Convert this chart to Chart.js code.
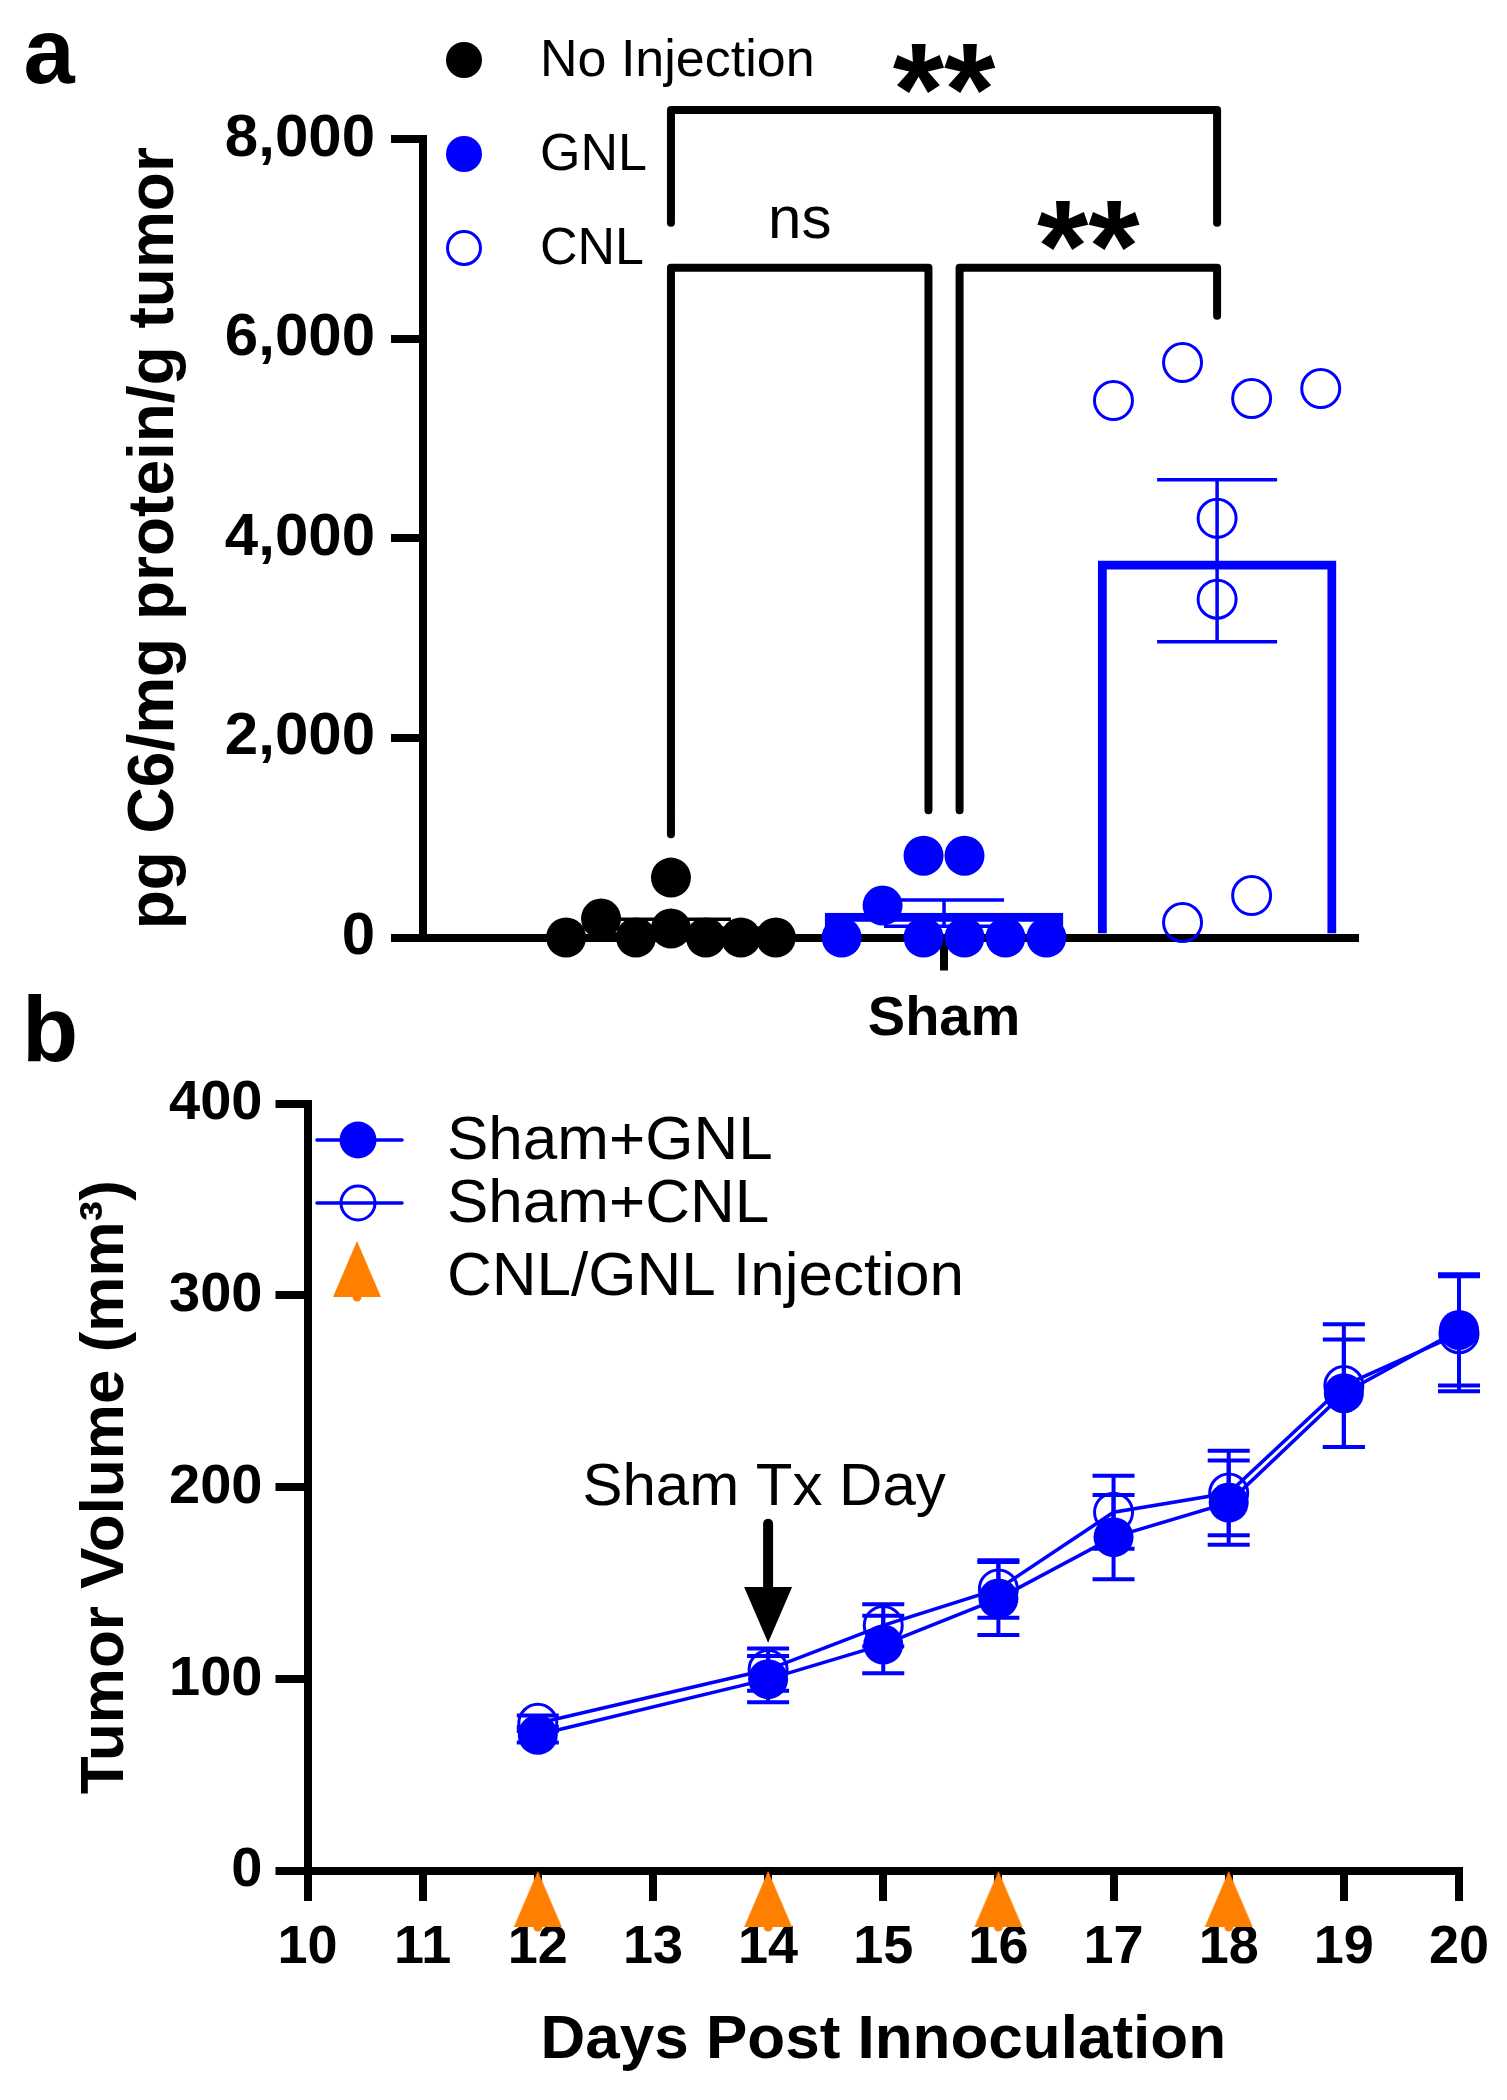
<!DOCTYPE html>
<html>
<head>
<meta charset="utf-8">
<script src="https://cdn.jsdelivr.net/npm/chart.js@4.4.0/dist/chart.umd.min.js"></script>
<style>
  body { margin: 0; background: #fff; }
  #wrap { position: relative; width: 1507px; height: 2100px; background: #fff; }
  canvas { position: absolute; left: 0; }
  #chartA { top: 0; }
  #chartB { top: 970px; }
</style>
</head>
<body>
<div id="wrap">
  <canvas id="chartA" width="1507" height="1050"></canvas>
  <canvas id="chartB" width="1507" height="1130"></canvas>
</div>
<script>
const FONT = "'Liberation Sans', Arial, Helvetica, sans-serif";
const BLUE = "#0000ff";
const BLACK = "#000000";
const ORANGE = "#ff8000";

// ---- panel a data ----
const groupNames = ["No Injection", "GNL", "CNL"];
const groupLabel = "Sham";
const noInjection = [0, 190, 0, 600, 90, 0, 0, 0];
const gnl = [0, 320, 0, 820, 0, 820, 0, 0];
const cnl = [5380, 5760, 5400, 5500, 4200, 3390, 150, 420];
// jitter column of each dot inside its group
const noInjectionCol = [-3, -2, -1, 0, 0, 1, 2, 3];
const gnlCol = [-2.5, -1.5, -0.5, -0.5, 0.5, 0.5, 1.5, 2.5];
const cnlCol = [-1.5, -0.5, 0.5, 1.5, 0, 0, -0.5, 0.5];
const yTicksA = [0, 2000, 4000, 6000, 8000];

// ---- panel b data ----
const days = [12, 14, 15, 16, 17, 18, 19, 20];
const shamGnl = [71, 100, 118, 142, 174, 192, 249, 282];
const shamGnlSem = [4, 12, 15, 19, 22, 22, 28, 29];
const shamCnl = [77, 105, 128, 147, 187, 197, 253, 280];
const shamCnlSem = [4, 11, 11, 15, 19, 22, 32, 30];
const injectionDays = [12, 14, 16, 18];
const xTicksB = [10, 11, 12, 13, 14, 15, 16, 17, 18, 19, 20];
const yTicksB = [0, 100, 200, 300, 400];

function mean(a) {
  return a.reduce(function (s, v) { return s + v; }, 0) / a.length;
}
function sem(a) {
  var m = mean(a);
  var ss = a.reduce(function (s, v) { return s + (v - m) * (v - m); }, 0);
  return Math.sqrt(ss / (a.length - 1)) / Math.sqrt(a.length);
}

// draw text so its ink is centred on (cx, cy)
function inkText(ctx, text, cx, cy, font) {
  ctx.font = font;
  ctx.textAlign = "center";
  ctx.textBaseline = "alphabetic";
  var m = ctx.measureText(text);
  ctx.fillText(text, cx, cy + (m.actualBoundingBoxAscent - m.actualBoundingBoxDescent) / 2);
}

function axisStyle(len) {
  return {
    grid: { display: true, drawOnChartArea: false, drawTicks: true, tickLength: len, tickWidth: 8, tickColor: BLACK, lineWidth: 8, color: BLACK, offset: false },
    border: { display: true, color: BLACK, width: 8 },
  };
}

// ================= panel a =================
const groups = [
  { values: noInjection, cols: noInjectionCol, spread: 0.128, color: BLACK, open: false },
  { values: gnl, cols: gnlCol, spread: 0.15, color: BLUE, open: false },
  { values: cnl, cols: cnlCol, spread: 0.253, color: BLUE, open: true },
];

// significance brackets, in data units
const brackets = [
  { x1: -1, x2: 1, y: 8290, drop1: 7160, drop2: 7160, text: "**", ty: 8700 },
  { x1: -1, x2: -0.057, y: 6710, drop1: 1035, drop2: 1276, text: "ns", ty: 7160 },
  { x1: 0.057, x2: 1, y: 6710, drop1: 1276, drop2: 6230, text: "**", ty: 7130 },
];

var datasetsA = [];
groups.forEach(function (g, i) {
  datasetsA.push({
    type: "scatter",
    label: groupNames[i],
    data: g.values.map(function (v, k) { return { x: i - 1 + g.cols[k] * g.spread, y: v }; }),
    pointRadius: g.open ? 19 : 20,
    pointBackgroundColor: g.open ? "rgba(0,0,0,0)" : g.color,
    pointBorderColor: g.color,
    pointBorderWidth: g.open ? 3 : 0,
    clip: false,
    order: 1,
  });
});
groups.forEach(function (g, i) {
  datasetsA.push({
    type: "bar",
    label: groupNames[i] + " mean",
    data: [{ x: i - 1, y: mean(g.values) }],
    backgroundColor: "#ffffff",
    borderColor: g.color,
    borderWidth: 9,
    borderSkipped: "start",
    barThickness: 238,
    grouped: false,
    order: 5,
  });
});

const panelA = {
  id: "panelA",
  afterDatasetsDraw: function (chart) {
    var ctx = chart.ctx, xs = chart.scales.x, ys = chart.scales.y;
    ctx.save();
    groups.forEach(function (g, i) {
      var m = mean(g.values), s = sem(g.values);
      var x = xs.getPixelForValue(i - 1);
      var yt = ys.getPixelForValue(m + s), yb = ys.getPixelForValue(m - s);
      ctx.strokeStyle = g.color;
      ctx.lineWidth = 3.5;
      ctx.beginPath();
      ctx.moveTo(x, yt); ctx.lineTo(x, yb);
      ctx.moveTo(x - 60, yt); ctx.lineTo(x + 60, yt);
      ctx.moveTo(x - 60, yb); ctx.lineTo(x + 60, yb);
      ctx.stroke();
    });
    ctx.restore();
  },
  afterDraw: function (chart) {
    var ctx = chart.ctx, xs = chart.scales.x, ys = chart.scales.y;
    ctx.save();
    // brackets
    ctx.strokeStyle = BLACK;
    ctx.fillStyle = BLACK;
    ctx.lineWidth = 8;
    ctx.lineJoin = "round";
    ctx.lineCap = "round";
    brackets.forEach(function (b) {
      var xa = xs.getPixelForValue(b.x1), xb = xs.getPixelForValue(b.x2);
      var y = ys.getPixelForValue(b.y);
      ctx.beginPath();
      ctx.moveTo(xa, ys.getPixelForValue(b.drop1));
      ctx.lineTo(xa, y);
      ctx.lineTo(xb, y);
      ctx.lineTo(xb, ys.getPixelForValue(b.drop2));
      ctx.stroke();
      var font = b.text === "ns" ? "60px " + FONT : "bold 132px " + FONT;
      inkText(ctx, b.text, (xa + xb) / 2, ys.getPixelForValue(b.ty), font);
    });
    // legend
    ctx.textAlign = "left";
    ctx.textBaseline = "middle";
    ctx.font = "52px " + FONT;
    var rows = [60, 154, 248];
    groups.forEach(function (g, i) {
      ctx.beginPath();
      ctx.arc(464, rows[i], g.open ? 16.5 : 18, 0, Math.PI * 2);
      if (g.open) {
        ctx.strokeStyle = g.color; ctx.lineWidth = 3; ctx.stroke();
      } else {
        ctx.fillStyle = g.color; ctx.fill();
      }
      ctx.fillStyle = BLACK;
      ctx.fillText(groupNames[i], 540, rows[i] + 2);
    });
    // panel letter
    inkText(ctx, "a", 49, 58, "bold 92px " + FONT);
    ctx.restore();
  },
};

new Chart(document.getElementById("chartA"), {
  type: "bar",
  data: { datasets: datasetsA },
  options: {
    responsive: false,
    animation: false,
    events: [],
    layout: { padding: { top: 139, right: 152, left: 0, bottom: 0 } },
    plugins: { legend: { display: false }, tooltip: { enabled: false } },
    scales: {
      x: Object.assign({
        type: "linear",
        min: -1.908,
        max: 1.505,
        offset: false,
        afterBuildTicks: function (s) { s.ticks = [{ value: 0 }]; },
        afterFit: function (s) { s.height = 112.5; },
        ticks: {
          callback: function () { return groupLabel; },
          font: { family: FONT, size: 56, weight: "bold" },
          color: BLACK,
          padding: 15,
          maxRotation: 0,
        },
      }, axisStyle(33)),
      y: Object.assign({
        type: "linear",
        min: 0,
        max: 8000,
        afterBuildTicks: function (s) { s.ticks = yTicksA.map(function (v) { return { value: v }; }); },
        afterFit: function (s) { s.width = 423; },
        ticks: {
          callback: function (v) { return v.toLocaleString("en-US"); },
          font: { family: FONT, size: 60, weight: "bold" },
          color: BLACK,
          padding: 16,
        },
        title: {
          display: true,
          text: "pg C6/mg protein/g tumor",
          font: { family: FONT, size: 64, weight: "bold" },
          color: BLACK,
          padding: { top: 117, bottom: 0 },
        },
      }, axisStyle(32)),
    },
  },
  plugins: [panelA],
});

// ================= panel b =================
function triangleMarker() {
  var c = document.createElement("canvas");
  c.width = 52;
  c.height = 128;
  var g = c.getContext("2d");
  g.fillStyle = ORANGE;
  g.beginPath();
  g.moveTo(26, 64);
  g.lineTo(50, 120);
  g.lineTo(2, 120);
  g.closePath();
  g.fill();
  g.beginPath();
  g.arc(26, 120, 4.5, 0, Math.PI * 2);
  g.fill();
  return c;
}
const triMarker = triangleMarker();

const seriesB = [
  { label: "Sham+GNL", values: shamGnl, err: shamGnlSem, open: false },
  { label: "Sham+CNL", values: shamCnl, err: shamCnlSem, open: true },
];

var datasetsB = seriesB.map(function (s, i) {
  return {
    label: s.label,
    data: days.map(function (d, k) { return { x: d, y: s.values[k] }; }),
    showLine: true,
    borderColor: BLUE,
    borderWidth: 3.5,
    pointRadius: s.open ? 19 : 20,
    pointBackgroundColor: s.open ? "rgba(0,0,0,0)" : BLUE,
    pointBorderColor: BLUE,
    pointBorderWidth: s.open ? 3 : 0,
    clip: false,
    order: i + 1,
  };
});
datasetsB.push({
  label: "CNL/GNL Injection",
  data: injectionDays.map(function (d) { return { x: d, y: 0 }; }),
  showLine: false,
  pointStyle: triMarker,
  pointRadius: 28,
  clip: false,
  order: 0,
});

// "Sham Tx Day" arrow, in data units
const shamTx = { day: 14, text: "Sham Tx Day", textY: 191, from: 181, head: 148, to: 119 };

const panelB = {
  id: "panelB",
  beforeDatasetsDraw: function (chart) {
    var ctx = chart.ctx, xs = chart.scales.x, ys = chart.scales.y;
    ctx.save();
    ctx.strokeStyle = BLUE;
    ctx.lineWidth = 4;
    seriesB.forEach(function (s) {
      days.forEach(function (d, k) {
        var x = xs.getPixelForValue(d);
        var yt = ys.getPixelForValue(s.values[k] + s.err[k]);
        var yb = ys.getPixelForValue(s.values[k] - s.err[k]);
        ctx.beginPath();
        ctx.moveTo(x, yt); ctx.lineTo(x, yb);
        ctx.moveTo(x - 21, yt); ctx.lineTo(x + 21, yt);
        ctx.moveTo(x - 21, yb); ctx.lineTo(x + 21, yb);
        ctx.stroke();
      });
    });
    ctx.restore();
  },
  afterDraw: function (chart) {
    var ctx = chart.ctx, xs = chart.scales.x, ys = chart.scales.y;
    ctx.save();
    // arrow + text
    var ax = xs.getPixelForValue(shamTx.day);
    ctx.fillStyle = BLACK;
    ctx.strokeStyle = BLACK;
    ctx.font = "60px " + FONT;
    ctx.textAlign = "center";
    ctx.textBaseline = "alphabetic";
    ctx.fillText(shamTx.text, ax - 4, ys.getPixelForValue(shamTx.textY));
    ctx.lineWidth = 10;
    ctx.lineCap = "round";
    ctx.beginPath();
    ctx.moveTo(ax, ys.getPixelForValue(shamTx.from));
    ctx.lineTo(ax, ys.getPixelForValue(shamTx.head) + 2);
    ctx.stroke();
    ctx.beginPath();
    ctx.moveTo(ax - 24, ys.getPixelForValue(shamTx.head));
    ctx.lineTo(ax + 24, ys.getPixelForValue(shamTx.head));
    ctx.lineTo(ax, ys.getPixelForValue(shamTx.to));
    ctx.closePath();
    ctx.fill();

    // legend
    var rows = [170, 233, 306];
    ctx.font = "62px " + FONT;
    ctx.textAlign = "left";
    ctx.textBaseline = "middle";
    seriesB.forEach(function (s, i) {
      var y = rows[i];
      ctx.strokeStyle = BLUE;
      ctx.lineWidth = 3.5;
      ctx.beginPath();
      ctx.moveTo(317, y); ctx.lineTo(402, y);
      ctx.stroke();
      ctx.beginPath();
      ctx.arc(358, y, s.open ? 17 : 18.5, 0, Math.PI * 2);
      if (s.open) { ctx.lineWidth = 3; ctx.stroke(); }
      else { ctx.fillStyle = BLUE; ctx.fill(); }
      ctx.fillStyle = BLACK;
      ctx.fillText(s.label, 447, y + 2);
    });
    ctx.drawImage(triMarker, 357 - 26, 271 - 64);
    ctx.fillStyle = BLACK;
    ctx.fillText(datasetsB[2].label, 447, rows[2] + 2);

    inkText(ctx, "b", 50, 58, "bold 92px " + FONT);
    ctx.restore();
  },
};

new Chart(document.getElementById("chartB"), {
  type: "scatter",
  data: { datasets: datasetsB },
  options: {
    responsive: false,
    animation: false,
    events: [],
    layout: { padding: { top: 133.5, right: 48, left: 0, bottom: 0 } },
    plugins: { legend: { display: false }, tooltip: { enabled: false } },
    scales: {
      x: Object.assign({
        type: "linear",
        min: 10,
        max: 20,
        afterBuildTicks: function (s) { s.ticks = xTicksB.map(function (v) { return { value: v }; }); },
        afterFit: function (s) { s.height = 229; },
        ticks: {
          font: { family: FONT, size: 54, weight: "bold" },
          color: BLACK,
          padding: 15,
          maxRotation: 0,
          autoSkip: false,
        },
        title: {
          display: true,
          text: "Days Post Innoculation",
          font: { family: FONT, size: 62, weight: "bold" },
          color: BLACK,
          padding: { top: 0, bottom: 22 },
        },
      }, axisStyle(30)),
      y: Object.assign({
        type: "linear",
        min: 0,
        max: 400,
        afterBuildTicks: function (s) { s.ticks = yTicksB.map(function (v) { return { value: v }; }); },
        afterFit: function (s) { s.width = 307.5; },
        ticks: {
          font: { family: FONT, size: 56, weight: "bold" },
          color: BLACK,
          padding: 13,
        },
        title: {
          display: true,
          text: "Tumor Volume (mm³)",
          font: { family: FONT, size: 62, weight: "bold" },
          color: BLACK,
          padding: { top: 69, bottom: 0 },
        },
      }, axisStyle(32)),
    },
  },
  plugins: [panelB],
});
</script>
</body>
</html>
